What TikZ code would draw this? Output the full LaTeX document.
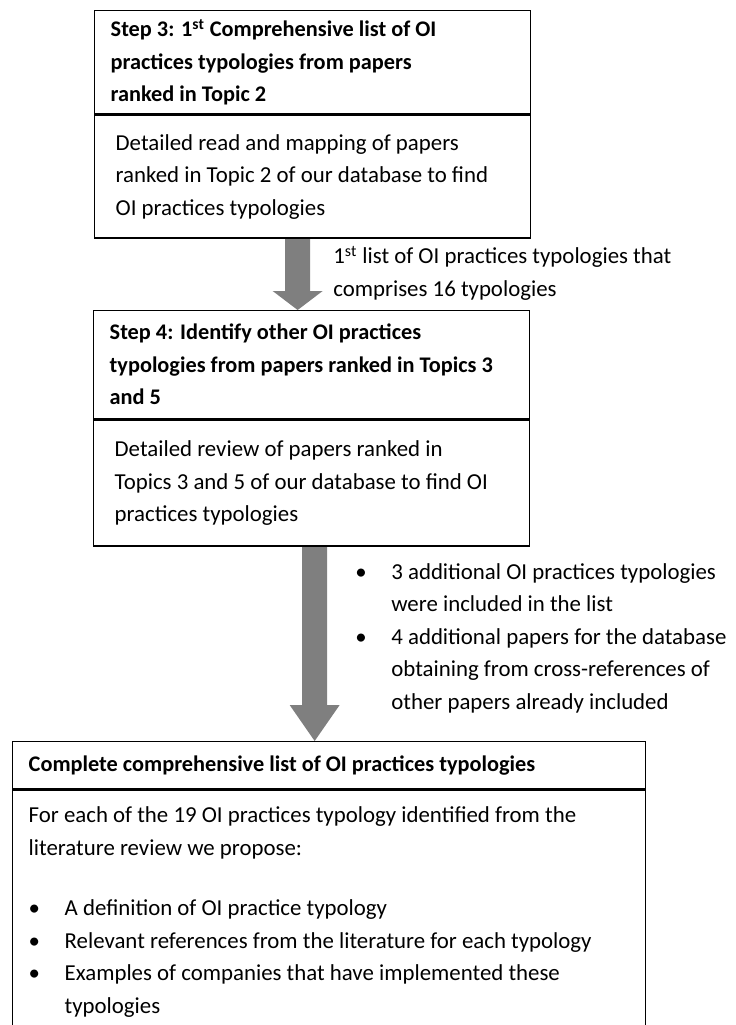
\documentclass[tikz,border=0pt]{standalone}
\usepackage{fontspec}
\setmainfont{Carlito}
\usepackage{tikz}
\usetikzlibrary{positioning,calc,backgrounds}

\newcommand{\bul}{\makebox[0.72cm][l]{\textbullet}}
\newcommand{\bulgap}{\hspace*{0.72cm}}
\newcommand{\blockarrow}[3]{% start, end, head length
  \fill[arrowgray] ($(#1)+(-12.5,0)$) -- ($(#2)+(-12.5,-#3)$) -- ($(#2)+(-25,-#3)$) -- (#2)
    -- ($(#2)+(25,-#3)$) -- ($(#2)+(12.5,-#3)$) -- ($(#1)+(12.5,0)$) -- cycle;}

\definecolor{arrowgray}{HTML}{7F7F7F}

\begin{document}
\begin{tikzpicture}[x=0.02cm, y=-0.02cm,
    txt/.style={font=\fontsize{13pt}{18.5pt}\selectfont, align=flush left},
    stephead/.style={draw, line width=0.8pt, align=flush left, text width=8.08cm, inner xsep=0.32cm, inner ysep=0pt,
        minimum width=8.72cm, font=\fontsize{12.7pt}{18.5pt}\selectfont\bfseries},
    stepbody/.style={draw, line width=0.8pt, align=flush left, text width=7.88cm, inner xsep=0.42cm, inner ysep=0pt,
        minimum width=8.72cm, font=\fontsize{13pt}{18.5pt}\selectfont},
    note/.style={txt, anchor=west, inner sep=0pt}
]
\clip (0,0) rectangle (736,1025);

% Step 3
\node[stephead, anchor=north west, minimum height=2.06cm] (s3head) at (94,10)
    {Step 3: 1\textsuperscript{st} Comprehensive list of OI\\practices typologies from papers\\ranked in Topic 2};
\node[stepbody, below=0pt of s3head, minimum height=2.46cm] (s3body)
    {Detailed read and mapping of papers\\ranked in Topic 2 of our database to find\\OI practices typologies};

% Step 4
\node[stephead, anchor=north west, minimum height=2.16cm] (s4head) at (93,310)
    {Step 4: Identify other OI practices\\typologies from papers ranked in Topics 3\\and 5};
\node[stepbody, below=0pt of s4head, minimum height=2.52cm] (s4body)
    {Detailed review of papers ranked in\\Topics 3 and 5 of our database to find OI\\practices typologies};

% Final list
\node[stephead, anchor=north west, minimum height=0.94cm, text width=12.02cm, minimum width=12.66cm] (finhead) at (12,741)
    {Complete comprehensive list of OI practices typologies};
\node[stepbody, below=0pt of finhead, minimum height=4.88cm, text width=12.02cm, inner xsep=0.32cm, minimum width=12.66cm] (finbody)
    {For each of the 19 OI practices typology identified from the\\literature review we propose:\\[16pt]
     \bul A definition of OI practice typology\\
     \bul Relevant references from the literature for each typology\\
     \bul Examples of companies that have implemented these\\
     \bulgap typologies};

% Arrows
\coordinate (a1s) at ($(s3body.south)+(-15,0)$);
\coordinate (a1e) at (a1s |- s4head.north);
\coordinate (a2s) at ($(s4body.south)+(3,0)$);
\coordinate (a2e) at (a2s |- finhead.north);
\begin{scope}[on background layer]
\blockarrow{a1s}{a1e}{19}
\blockarrow{a2s}{a2e}{36}
\end{scope}

\node[note] (note1) at (333,273) {1\textsuperscript{st} list of OI practices typologies that\\comprises 16 typologies};
\node[note] (note2) at (355,638) {\bul 3 additional OI practices typologies\\\bulgap were included in the list\\
    \bul 4 additional papers for the database\\\bulgap obtaining from cross-references of\\\bulgap other papers already included};
\end{tikzpicture}
\end{document}
